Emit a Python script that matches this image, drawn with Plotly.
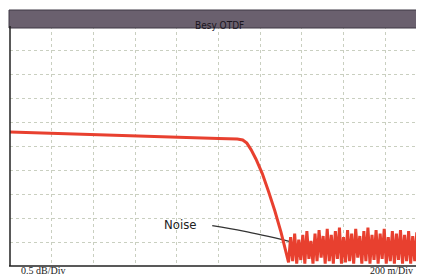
import plotly.graph_objects as go
import numpy as np

# Data (x in divisions of 200 m, y in divisions of 0.5 dB)
title_text = "Besy OTDF"
y_label = "0.5 dB/Div"
x_label = "200 m/Div"

trace_x = [0.0, 1.0, 2.0, 3.0, 4.0, 5.0, 5.45, 5.58, 5.68, 5.78, 5.9, 6.05, 6.2, 6.35, 6.5, 6.62, 6.68]
trace_y = [5.58, 5.52, 5.46, 5.41, 5.36, 5.31, 5.29, 5.25, 5.12, 4.85, 4.45, 3.85, 3.1, 2.3, 1.4, 0.55, 0.15]

noise_y = [0.15, 1.2, 0.2, 1.35, 0.1, 1.1, 0.25, 1.3, 0.1, 1.45, 0.3, 1.05, 0.1, 1.35, 0.2, 1.5,
           0.35, 1.25, 0.1, 1.55, 0.2, 1.3, 0.1, 1.45, 0.3, 1.6, 0.1, 1.2, 0.15, 1.5, 0.2, 1.35,
           0.1, 1.55, 0.35, 1.25, 0.1, 1.45, 0.2, 1.6, 0.1, 1.3, 0.25, 1.5, 0.1, 1.35, 0.3, 1.55,
           0.1, 1.2, 0.2, 1.45, 0.1, 1.35, 0.25, 1.5, 0.1, 1.3, 0.2, 1.45, 0.1, 1.25, 0.2, 1.4,
           0.15, 1.3, 0.1, 1.45]
noise_x0, noise_x1 = 6.68, 9.95

noise_label = "Noise"
noise_label_pos = (4.08, 1.72)
arrow_x = [4.85, 5.6, 6.72]
arrow_y = [1.68, 1.45, 1.02]

XMAX = 414 / 41.7

noise_x = list(np.linspace(noise_x0, noise_x1, len(noise_y)))

fig = go.Figure()
fig.add_trace(go.Scatter(x=arrow_x, y=arrow_y, mode="lines",
                         line=dict(color="#333333", width=1.3, shape="spline"),
                         hoverinfo="skip", showlegend=False))
fig.add_trace(go.Scatter(x=trace_x + noise_x, y=trace_y + noise_y, mode="lines",
                         line=dict(color="#e8402f", width=3, shape="linear"),
                         hoverinfo="skip", showlegend=False))

fig.add_annotation(x=noise_label_pos[0], y=noise_label_pos[1], text=noise_label,
                   showarrow=False,
                   font=dict(family="DejaVu Sans Condensed, DejaVu Sans", size=13, color="#222222"))

PW, PH = 414, 240
# title bar
fig.add_shape(type="rect", xref="paper", yref="paper", x0=-1/PW, x1=1.01,
              y0=1 - 2/PH, y1=1 + 16/PH, fillcolor="#6a606e",
              line=dict(color="#3e3844", width=1), layer="above")
fig.add_annotation(xref="paper", yref="paper", x=(219 - 10) / PW, y=1 + 8/PH,
                   text=title_text, showarrow=False,
                   font=dict(family="DejaVu Sans Condensed, DejaVu Sans", size=10, color="#1a161e"))

# bottom labels
fig.add_annotation(xref="paper", yref="paper", x=10 / PW, y=-11/PH, yanchor="bottom", xanchor="left",
                   text=y_label, showarrow=False, borderpad=0,
                   font=dict(family="Liberation Serif, Times New Roman", size=10, color="#222222"))
fig.add_annotation(xref="paper", yref="paper", x=(PW - 10) / PW, y=-11/PH, yanchor="bottom", xanchor="right",
                   text=x_label, showarrow=False, borderpad=0,
                   font=dict(family="Liberation Serif, Times New Roman", size=10, color="#222222"))

fig.update_xaxes(range=[0, XMAX], dtick=1, tick0=0, showgrid=True, gridcolor="#c9cfc0",
                 griddash="dot", gridwidth=1, showticklabels=False, ticks="",
                 zeroline=False, showline=False)
fig.update_yaxes(range=[0, 10], dtick=1, tick0=0, showgrid=True, gridcolor="#c9cfc0",
                 griddash="dot", gridwidth=1, showticklabels=False, ticks="",
                 zeroline=False, showline=False)

# left and bottom borders
fig.add_shape(type="line", xref="paper", yref="paper", x0=0, x1=0, y0=0, y1=1,
              line=dict(color="#222222", width=1.5))
fig.add_shape(type="line", xref="paper", yref="paper", x0=-1/PW, x1=1, y0=0, y1=0,
              line=dict(color="#222222", width=1.5))

# page body has an 8px margin: size the figure so the plot lands where the reference has it
fig.update_layout(width=416, height=269, margin=dict(l=2, r=0, t=18, b=11),
                  paper_bgcolor="white", plot_bgcolor="white", showlegend=False)

fig.write_html("out.html")
